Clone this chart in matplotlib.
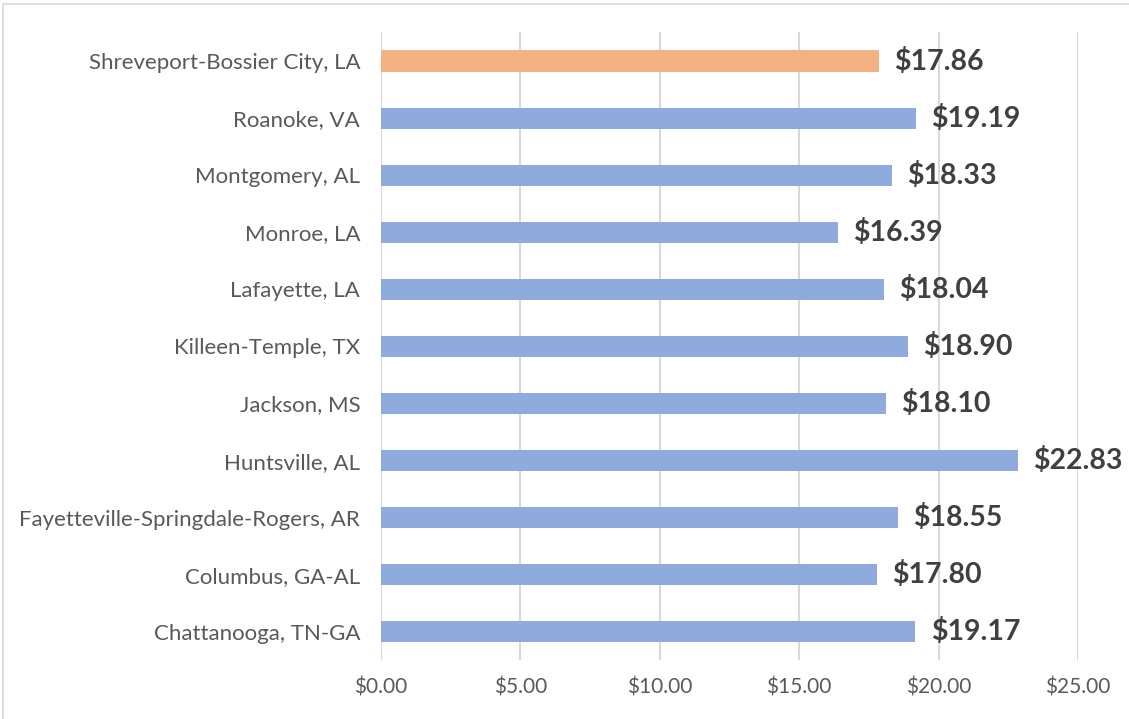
import matplotlib.pyplot as plt
from matplotlib.patches import Rectangle
from matplotlib.ticker import FuncFormatter

# Data, bottom row first
cities = ['Chattanooga, TN-GA', 'Columbus, GA-AL', 'Fayetteville-Springdale-Rogers, AR',
          'Huntsville, AL', 'Jackson, MS', 'Killeen-Temple, TX', 'Lafayette, LA',
          'Monroe, LA', 'Montgomery, AL', 'Roanoke, VA', 'Shreveport-Bossier City, LA']
wages = [19.17, 17.80, 18.55, 22.83, 18.10, 18.90, 18.04, 16.39, 18.33, 19.19, 17.86]
highlight = 'Shreveport-Bossier City, LA'
x_ticks = [0, 5, 10, 15, 20, 25]

plt.rcParams['font.family'] = ['Lato', 'DejaVu Sans']

fig = plt.figure(figsize=(11.29, 7.19), dpi=100)
ax = fig.add_axes([381 / 1129, 0.0814, 697 / 1129, 0.8734])

colors = ['#F4B183' if c == highlight else '#8FAADC' for c in cities]
ax.barh(cities, wages, height=0.37, color=colors, zorder=3)

for i, v in enumerate(wages):
    ax.text(v + 0.55, i, f'${v:.2f}', va='center', ha='left',
            fontsize=20.5, fontweight='bold', color='#404040', zorder=4)

ax.set_xlim(0, 25)
ax.set_ylim(-0.5, len(cities) - 0.5)
ax.set_xticks(x_ticks)
ax.xaxis.set_major_formatter(FuncFormatter(lambda v, p: f'${v:.2f}'))
ax.grid(axis='x', color='#D9D9D9', linewidth=1.5, zorder=0)
for s in ax.spines.values():
    s.set_visible(False)
ax.tick_params(axis='both', length=0, colors='#595959', labelsize=15)
ax.tick_params(axis='y', pad=15, labelsize=16)
ax.tick_params(axis='x', pad=12)

# outer chart border
fig.patches.append(Rectangle((3 / 1129, -0.01), 1.1, 1 - 4 / 719 + 0.01,
                             transform=fig.transFigure, fill=False,
                             edgecolor='#D9D9D9', linewidth=1.2))

fig.savefig('out.png', dpi=100)
